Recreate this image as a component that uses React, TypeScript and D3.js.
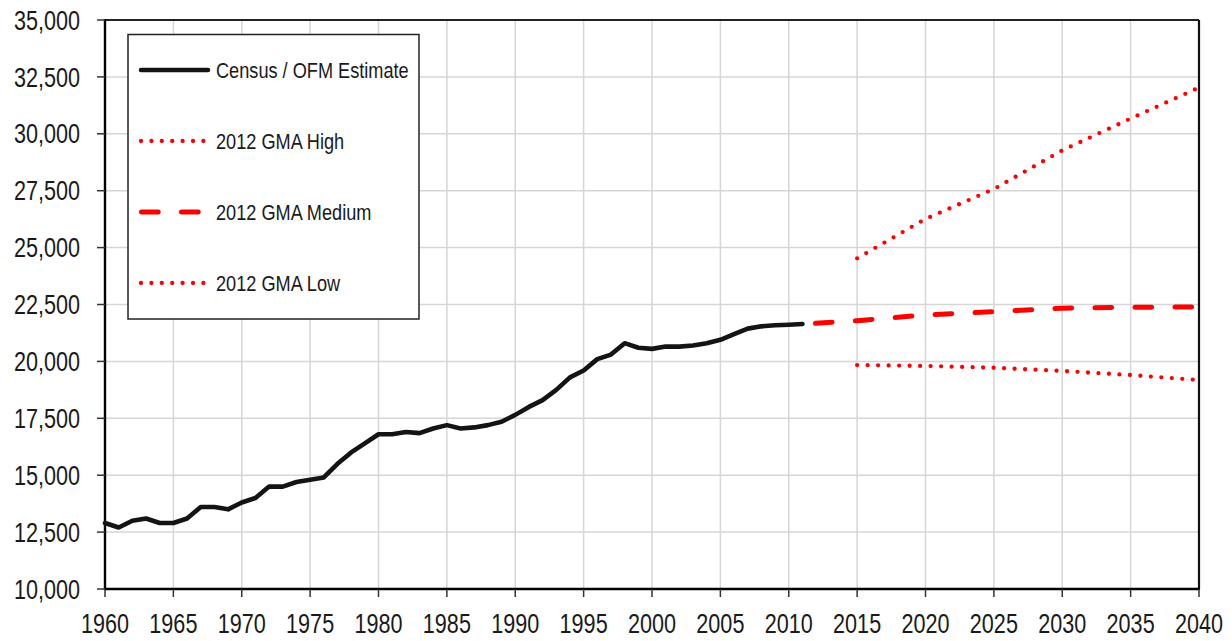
import React from 'react';
import * as d3 from 'd3';

// Census / OFM estimates, 1960-2011
const censusYears = d3.range(1960, 2012);
const censusValues = [
  12900, 12700, 13000, 13100, 12900, 12900, 13100, 13600, 13600, 13500,
  13800, 14000, 14500, 14500, 14700, 14800, 14900, 15500, 16000, 16400,
  16800, 16800, 16900, 16850, 17050, 17200, 17050, 17100, 17200, 17350,
  17650, 18000, 18300, 18750, 19300, 19600, 20100, 20300, 20800, 20600,
  20550, 20650, 20650, 20700, 20800, 20950, 21200, 21440, 21540, 21590,
  21610, 21640,
];

// 2012 GMA projections
const mediumYears = [2011, 2015, 2020, 2025, 2030, 2035, 2040];
const mediumValues = [21640, 21790, 22040, 22185, 22335, 22380, 22390];
const highYears = [2015, 2020, 2025, 2030, 2035, 2040];
const highValues = [24530, 26260, 27575, 29270, 30670, 32030];
const lowYears = [2015, 2020, 2025, 2030, 2035, 2040];
const lowValues = [19840, 19800, 19720, 19580, 19400, 19180];

const xTicks = d3.range(1960, 2041, 5);
const yTicks = d3.range(10000, 35001, 2500);

const legendItems = [
  { label: 'Census / OFM Estimate', kind: 'solid' },
  { label: '2012 GMA High', kind: 'dot' },
  { label: '2012 GMA Medium', kind: 'dash' },
  { label: '2012 GMA Low', kind: 'dot' },
];

const FONT = '"Liberation Sans", Arial, sans-serif';
const RED = '#ff0000';
const SQUEEZE = 0.8;

// narrow text: Liberation Sans squeezed horizontally, like Arial Narrow
function NText({ x, y, anchor = 'start', size, children }: any) {
  return (
    <text
      transform={`translate(${x},${y}) scale(${SQUEEZE},1)`}
      textAnchor={anchor}
      fontSize={size}
      fill="#1a1a1a"
    >
      {children}
    </text>
  );
}

export default function App() {
  const width = 1232;
  const height = 641;
  const m = { left: 105, right: 33, top: 20, bottom: 52 };

  const x = d3.scaleLinear().domain([1960, 2040]).range([m.left, width - m.right]);
  const y = d3.scaleLinear().domain([10000, 35000]).range([height - m.bottom, m.top]);

  const line = d3
    .line<[number, number]>()
    .x((d) => x(d[0]))
    .y((d) => y(d[1]));

  const pairs = (ys: number[], vs: number[]) => ys.map((yr, i) => [yr, vs[i]] as [number, number]);

  const x0 = x(1960);
  const x1 = x(2040);
  const y0 = y(10000);
  const y1 = y(35000);

  const dotStyle = { strokeWidth: 4.3, strokeDasharray: '0 10.5', strokeLinecap: 'round' as const };

  return (
    <svg
      width={width}
      height={height}
      style={{ position: 'absolute', left: 0, top: 0, background: '#fff' }}
      fontFamily={FONT}
    >
      {/* grid */}
      {yTicks.slice(1, -1).map((t) => (
        <line key={'gy' + t} x1={x0} x2={x1} y1={y(t)} y2={y(t)} stroke="#d6d6d6" strokeWidth={1.5} />
      ))}
      {xTicks.slice(1, -1).map((t) => (
        <line key={'gx' + t} x1={x(t)} x2={x(t)} y1={y1} y2={y0} stroke="#d6d6d6" strokeWidth={1.5} />
      ))}

      {/* frame */}
      <line x1={x0} x2={x1} y1={y1} y2={y1} stroke="#222" strokeWidth={2} />
      <line x1={x1} x2={x1} y1={y1} y2={y0} stroke="#111" strokeWidth={2.2} />
      <line x1={x0} x2={x0} y1={y1 - 1} y2={y0 + 1} stroke="#000" strokeWidth={2.4} />
      <line x1={x0 - 1} x2={x1 + 1} y1={y0} y2={y0} stroke="#000" strokeWidth={2.4} />

      {/* y axis ticks + labels */}
      {yTicks.map((t) => (
        <g key={'ty' + t}>
          <line x1={x0 - 8} x2={x0} y1={y(t)} y2={y(t)} stroke="#333" strokeWidth={1.5} />
          <NText x={80} y={y(t) + 9.6} anchor="end" size={27}>
            {d3.format(',')(t)}
          </NText>
        </g>
      ))}

      {/* x axis ticks + labels */}
      {xTicks.map((t) => (
        <g key={'tx' + t}>
          <line x1={x(t)} x2={x(t)} y1={y0} y2={y0 + 8} stroke="#333" strokeWidth={1.5} />
          <NText x={x(t)} y={633} anchor="middle" size={27}>
            {t}
          </NText>
        </g>
      ))}

      {/* series */}
      <path
        d={line(pairs(mediumYears, mediumValues)) || ''}
        fill="none"
        stroke={RED}
        strokeWidth={5}
        strokeLinecap="round"
        strokeDasharray="16.7 23.3"
        strokeDashoffset={27}
      />
      <path d={line(pairs(highYears, highValues)) || ''} fill="none" stroke={RED} {...dotStyle} />
      <path d={line(pairs(lowYears, lowValues)) || ''} fill="none" stroke={RED} {...dotStyle} />
      <path
        d={line(pairs(censusYears, censusValues)) || ''}
        fill="none"
        stroke="#141414"
        strokeWidth={4.6}
        strokeLinejoin="round"
        strokeLinecap="round"
      />

      {/* legend */}
      <rect x={128} y={34.5} width={291} height={284.5} fill="#fff" stroke="#222" strokeWidth={1.5} />
      {legendItems.map((item, i) => {
        const cy = 70 + i * 71;
        let sample;
        if (item.kind === 'solid') {
          sample = <line x1={141} x2={208} y1={cy} y2={cy} stroke="#141414" strokeWidth={4.5} strokeLinecap="round" />;
        } else if (item.kind === 'dash') {
          sample = (
            <line
              x1={141.5}
              x2={200}
              y1={cy}
              y2={cy}
              stroke={RED}
              strokeWidth={5}
              strokeLinecap="round"
              strokeDasharray="16.7 23.3"
            />
          );
        } else {
          sample = <line x1={141} x2={206} y1={cy} y2={cy} stroke={RED} {...dotStyle} strokeDasharray="0 10.4" />;
        }
        return (
          <g key={item.label}>
            {sample}
            <NText x={216} y={cy + 8} size={22.7}>
              {item.label}
            </NText>
          </g>
        );
      })}
    </svg>
  );
}
